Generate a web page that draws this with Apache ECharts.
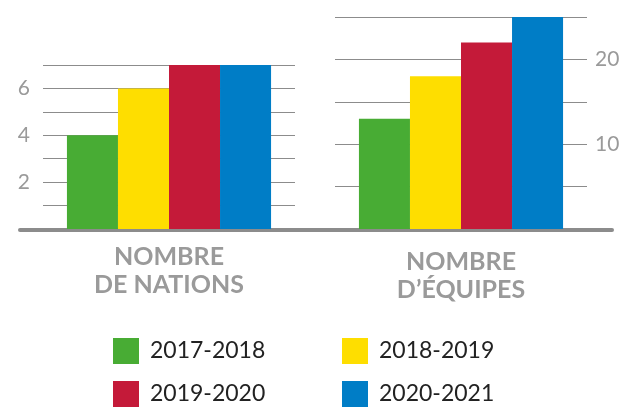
<!DOCTYPE html>
<html>
<head>
<meta charset="utf-8">
<script src="https://cdn.jsdelivr.net/npm/echarts@6/dist/echarts.min.js"></script>
<style>
  html, body { margin: 0; padding: 0; background: #fff; }
  #chart { width: 627px; height: 407px; }
</style>
</head>
<body>
<div id="chart"></div>
<script>
// data
const seasons = ['2017-2018', '2018-2019', '2019-2020', '2020-2021'];
const categories = ['NOMBRE\nDE NATIONS', 'NOMBRE\nD\u2019\u00c9QUIPES'];
const nations = [4, 6, 7, 7];
const equipes = [13, 18, 22, 25];
const leftTicks = [2, 4, 6];
const rightTicks = [10, 20];

const colors = ['#48ac34', '#fede00', '#c41a39', '#007dc6'];
const gridColor = '#8c8c8c';
const labelGray = '#9a9a9a';

let chartDom = document.getElementById('chart');
let myChart = echarts.init(chartDom);

let series = [];
seasons.forEach((s, i) => {
    series.push({
        name: s, type: 'bar', xAxisIndex: 0, yAxisIndex: 0,
        data: [nations[i]], itemStyle: {color: colors[i]},
        barGap: '0%', barCategoryGap: '19%'
    });
    series.push({
        name: s, type: 'bar', xAxisIndex: 1, yAxisIndex: 1,
        data: [equipes[i]], itemStyle: {color: colors[i]},
        barGap: '0%', barCategoryGap: '19%'
    });
});

const catLabel = {
    color: labelGray, fontFamily: 'Lato', fontWeight: 'bold',
    fontSize: 25, lineHeight: 28
};

const legendBase = {
    orient: 'vertical', top: 338, height: 100, padding: 0,
    itemWidth: 26, itemHeight: 26, itemGap: 17,
    icon: 'rect', selectedMode: false,
    textStyle: {color: '#222', fontFamily: 'Lato', fontSize: 23, padding: [0, 0, 0, 6]}
};

let option = {
    animation: false,
    grid: [
        {left: 43, right: 332, top: 65, bottom: 178},
        {left: 335, right: 40, top: 17, bottom: 178},
        {left: 20, right: 15, top: 200, bottom: 177}
    ],
    xAxis: [
        {
            type: 'category', gridIndex: 0, data: [categories[0]],
            axisLine: {show: false}, axisTick: {show: false},
            axisLabel: Object.assign({margin: 14}, catLabel)
        },
        {
            type: 'category', gridIndex: 1, data: [categories[1]],
            axisLine: {show: false}, axisTick: {show: false},
            axisLabel: Object.assign({margin: 19}, catLabel)
        },
        {
            type: 'value', gridIndex: 2, min: 0, max: 1,
            axisLine: {show: true, lineStyle: {color: gridColor, width: 4}},
            axisTick: {show: false}, axisLabel: {show: false}, splitLine: {show: false}
        }
    ],
    yAxis: [
        {
            type: 'value', gridIndex: 0, min: 0, max: 7, interval: 1,
            axisLine: {show: false}, axisTick: {show: false},
            axisLabel: {
                margin: 13, color: labelGray, fontFamily: 'Lato', fontSize: 21,
                formatter: v => leftTicks.includes(v) ? String(v) : ''
            },
            splitLine: {lineStyle: {color: gridColor, width: 1}}
        },
        {
            type: 'value', gridIndex: 1, position: 'right', min: 0, max: 25, interval: 5,
            axisLine: {show: false}, axisTick: {show: false},
            axisLabel: {
                margin: 8, color: labelGray, fontFamily: 'Lato', fontSize: 21,
                formatter: v => rightTicks.includes(v) ? String(v) : ''
            },
            splitLine: {lineStyle: {color: gridColor, width: 1}}
        },
        {
            type: 'value', gridIndex: 2, show: false
        }
    ],
    legend: [
        Object.assign({data: [seasons[0], seasons[2]], left: 113}, legendBase),
        Object.assign({data: [seasons[1], seasons[3]], left: 342}, legendBase)
    ],
    series: series
};

myChart.setOption(option);
</script>
</body>
</html>
